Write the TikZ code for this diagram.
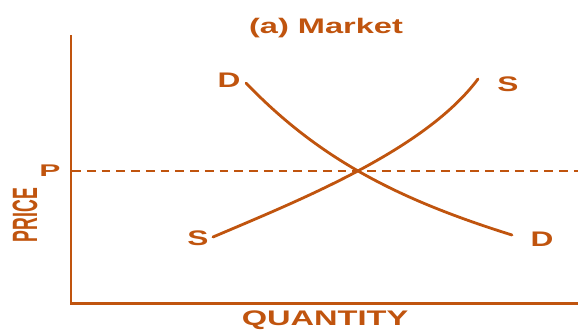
\documentclass[tikz,border=0pt]{standalone}
\usepackage{fontspec}
\setmainfont{Liberation Sans}
\usetikzlibrary{positioning}
\definecolor{mktOrange}{RGB}{192,84,14}

\begin{document}
\begin{tikzpicture}[x=0.02cm,y=-0.02cm,
    axisline/.style={line width=1.7pt,mktOrange},
    curveline/.style={line width=1.6pt,mktOrange,line cap=round},
    lblbase/.style={text=mktOrange,font=\bfseries\fontsize{12}{14}\selectfont,inner sep=0pt},
    lbl/.style={lblbase,xscale=1.5}]
  \useasboundingbox (0,0) rectangle (582,329);
  % axes
  \coordinate (ytop) at (71,35);
  \coordinate (origin) at (71,303);
  \coordinate (xend) at (578,303);
  \draw[axisline] (ytop) -- (origin) -- (xend);
  % price level
  \coordinate (pleft) at (72,171);
  \coordinate (pright) at (578,171);
  \draw[mktOrange,line width=1.4pt,dash pattern=on 5pt off 3.4pt] (pleft) -- (pright);
  % demand and supply
  \coordinate (dtop) at (246,83);
  \coordinate (dbot) at (512,235);
  \coordinate (sbot) at (213,237);
  \coordinate (stop) at (478,79);
  \draw[curveline] (dtop) .. controls (320,160) and (400,200) .. (dbot);
  \draw[curveline] (sbot) .. controls (300,200) and (425,150) .. (stop);
  % labels
  \node[lbl,anchor=base,xscale=1.03] (title) at (326,33) {(a) Market};
  \node[lbl,anchor=base,xscale=1.03] (qty) at (325,325) {QUANTITY};
  \node[lblbase,rotate=90,xscale=0.84,yscale=1.67] (price) at (25,215) {PRICE};
  \node[lbl,yscale=0.8] (plbl) at (50,171) {P};
  \node[lbl] (dtoplbl) at (229,80) {D};
  \node[lbl] (stoplbl) at (508,84) {S};
  \node[lbl] (sbotlbl) at (198,238) {S};
  \node[lbl] (dbotlbl) at (542,239) {D};
\end{tikzpicture}
\end{document}
